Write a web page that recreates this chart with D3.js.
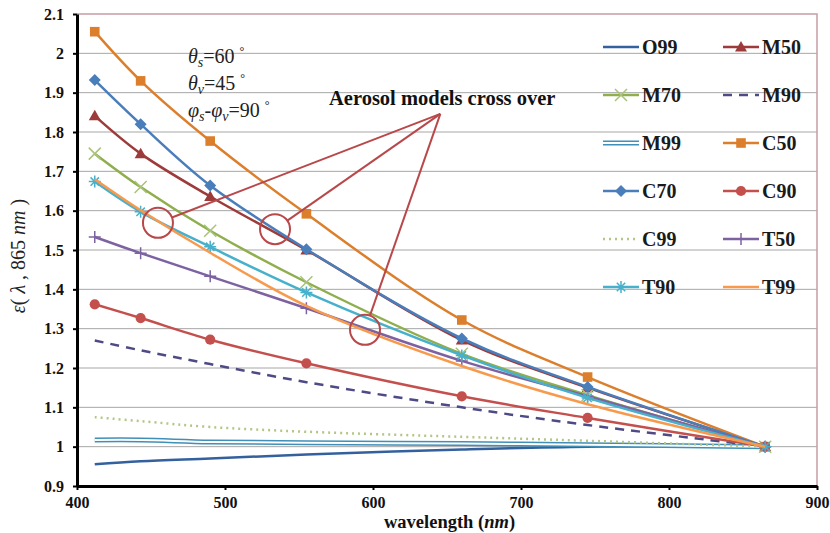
<!DOCTYPE html>
<html>
<head>
<meta charset="utf-8">
<title>Aerosol models epsilon</title>
<style>
body { margin: 0; background: #fff; }
#plot { display: block; }
svg text { font-family: "Liberation Serif", "Times New Roman", serif; }
.grid line { stroke: #a6a6a6; stroke-width: 1; }
.axis path, .axis line { stroke: #000; }
.axis path { stroke-width: 3; }
.axis line { stroke-width: 2; }
.axis text { font-size: 16px; font-weight: bold; fill: #111; }
.legend text { font-size: 20px; font-weight: bold; fill: #1a1a1a; }
</style>
</head>
<body>
<svg id="plot" width="830" height="533"></svg>
<script src="https://cdn.jsdelivr.net/npm/d3@7"></script>
<script>
// wavelengths (nm)
const wavelengths = [412, 443, 490, 555, 660, 745, 865];

// epsilon(lambda, 865) for each aerosol model
const O99 = [0.955, 0.963, 0.970, 0.980, 0.993, 1.000, 1.000];
const M50 = [1.841, 1.745, 1.636, 1.500, 1.271, 1.150, 1.000];
const M70 = [1.745, 1.660, 1.549, 1.418, 1.236, 1.131, 1.000];
const M90 = [1.270, 1.245, 1.210, 1.164, 1.100, 1.055, 1.000];
const M99 = [1.017, 1.017, 1.012, 1.010, 1.008, 1.005, 1.000];
const C50 = [2.055, 1.930, 1.777, 1.592, 1.322, 1.177, 1.000];
const C70 = [1.932, 1.820, 1.664, 1.502, 1.275, 1.152, 1.000];
const C90 = [1.362, 1.327, 1.272, 1.212, 1.128, 1.073, 1.000];
const C99 = [1.075, 1.065, 1.050, 1.038, 1.025, 1.015, 1.000];
const T50 = [1.533, 1.492, 1.433, 1.352, 1.218, 1.128, 1.000];
const T90 = [1.674, 1.597, 1.508, 1.392, 1.232, 1.124, 1.000];
const T99 = [1.680, 1.601, 1.493, 1.358, 1.205, 1.108, 1.000];

const seriesNames = ['O99', 'M50', 'M70', 'M90', 'M99', 'C50',
                     'C70', 'C90', 'C99', 'T50', 'T90', 'T99'];
const seriesValues = [O99, M50, M70, M90, M99, C50, C70, C90, C99, T50, T90, T99];

const yTicks = [0.9, 1.0, 1.1, 1.2, 1.3, 1.4, 1.5, 1.6, 1.7, 1.8, 1.9, 2.0, 2.1];
const xTicks = [400, 500, 600, 700, 800, 900];

// crossing markers of the annotation, [wavelength, epsilon]
const crossPoints = [[454.7, 1.569], [533.8, 1.553], [594.6, 1.297]];
const calloutApex = [645.5, 1.846];

// style per series
const styles = {
  O99: {color: '#34619e', width: 2.5, marker: null},
  M50: {color: '#9c3b39', width: 2.5, marker: 'triangle'},
  M70: {color: '#8fae4e', width: 2.5, marker: 'x'},
  M90: {color: '#4e4a86', width: 2.5, marker: null, dash: '9,7'},
  M99: {color: '#3f8fb8', width: 5, marker: null, double: true},
  C50: {color: '#dc7f2c', width: 2.5, marker: 'square'},
  C70: {color: '#4a7ebb', width: 2.5, marker: 'diamond'},
  C90: {color: '#c4504d', width: 2.5, marker: 'circle'},
  C99: {color: '#b3c784', width: 2.5, marker: null, dash: '2,4'},
  T50: {color: '#7d62a1', width: 2.5, marker: 'plus'},
  T90: {color: '#47b0cb', width: 2.5, marker: 'asterisk'},
  T99: {color: '#f79a4e', width: 2.5, marker: null}
};

const svg = d3.select('#plot');
const plotLeft = 77, plotRight = 817, plotTop = 14, plotBottom = 486;

const x = d3.scaleLinear().domain([400, 900]).range([plotLeft, plotRight]);
const y = d3.scaleLinear().domain([0.9, 2.1]).range([plotBottom, plotTop]);

// gridlines
svg.append('g').attr('class', 'grid')
  .selectAll('line')
  .data(yTicks.slice(1, -1))
  .join('line')
  .attr('x1', plotLeft).attr('x2', plotRight)
  .attr('y1', d => y(d)).attr('y2', d => y(d));

// plot area frame (top / right)
svg.append('path')
  .attr('d', `M${plotLeft},${plotTop}H${plotRight}V${plotBottom}`)
  .attr('fill', 'none')
  .attr('stroke', '#c99ca6')
  .attr('stroke-width', 1.5);

const line = d3.line()
  .x((d, i) => x(wavelengths[i]))
  .y(d => y(d))
  .curve(d3.curveCatmullRom.alpha(0.5));

function drawMarker(g, type, color, size) {
  const s = size;
  if (type === 'triangle') {
    g.append('path').attr('d', `M0,${-s}L${s},${s * 0.75}L${-s},${s * 0.75}Z`).attr('fill', color);
  } else if (type === 'square') {
    g.append('rect').attr('x', -s * 0.8).attr('y', -s * 0.8)
      .attr('width', s * 1.6).attr('height', s * 1.6).attr('fill', color);
  } else if (type === 'diamond') {
    g.append('path').attr('d', `M0,${-s}L${s},0L0,${s}L${-s},0Z`).attr('fill', color);
  } else if (type === 'circle') {
    g.append('circle').attr('r', s * 0.85).attr('fill', color);
  } else if (type === 'x') {
    g.append('path').attr('d', `M${-s},${-s}L${s},${s}M${s},${-s}L${-s},${s}`)
      .attr('fill', 'none').attr('stroke', '#a9c27a').attr('stroke-width', 1.5);
  } else if (type === 'plus') {
    g.append('path').attr('d', `M${-s},0L${s},0M0,${-s}L0,${s}`)
      .attr('fill', 'none').attr('stroke', color).attr('stroke-width', 1.5);
  } else if (type === 'asterisk') {
    g.append('path')
      .attr('d', `M${-s},0L${s},0M0,${-s}L0,${s}M${-s * 0.7},${-s * 0.7}L${s * 0.7},${s * 0.7}M${s * 0.7},${-s * 0.7}L${-s * 0.7},${s * 0.7}`)
      .attr('fill', 'none').attr('stroke', color).attr('stroke-width', 1.5);
  }
}

function drawStroke(g, st, d) {
  const p = g.append('path')
    .attr('d', d)
    .attr('fill', 'none')
    .attr('stroke', st.color)
    .attr('stroke-width', st.width);
  if (st.dash) p.attr('stroke-dasharray', st.dash);
  if (st.double) {
    g.append('path').attr('d', d).attr('fill', 'none')
      .attr('stroke', '#fff').attr('stroke-width', st.width - 3);
  }
}

// series
seriesNames.forEach((name, k) => {
  const st = styles[name];
  const g = svg.append('g').attr('class', 'series');
  drawStroke(g, st, line(seriesValues[k]));
  if (st.marker) {
    seriesValues[k].forEach((v, i) => {
      const m = g.append('g').attr('transform', `translate(${x(wavelengths[i])},${y(v)})`);
      drawMarker(m, st.marker, st.color, 6);
    });
  }
});

// axes
const yAxis = svg.append('g').attr('class', 'axis')
  .attr('transform', `translate(${plotLeft},0)`)
  .call(d3.axisLeft(y).tickValues(yTicks).tickSize(4).tickSizeOuter(0)
    .tickFormat(d => String(+d.toFixed(1))));
yAxis.selectAll('text').attr('dx', '-6');

svg.append('g').attr('class', 'axis')
  .attr('transform', `translate(0,${plotBottom})`)
  .call(d3.axisBottom(x).tickValues(xTicks).tickSize(4).tickSizeOuter(0).tickFormat(d3.format('d')))
  .selectAll('text').attr('dy', '0.95em');

// axis titles
const xt = svg.append('text')
  .attr('x', 384).attr('y', 528)
  .attr('font-size', 18.5).attr('font-weight', 'bold').attr('fill', '#111');
xt.append('tspan').text('wavelength (');
xt.append('tspan').attr('font-style', 'italic').text('nm');
xt.append('tspan').text(')');

const yt = svg.append('text')
  .attr('transform', 'translate(25,256) rotate(-90)')
  .attr('text-anchor', 'middle')
  .attr('font-size', 20).attr('fill', '#222');
yt.append('tspan').attr('font-style', 'italic').text('ε');
yt.append('tspan').text('( ');
yt.append('tspan').attr('font-style', 'italic').text('λ');
yt.append('tspan').text(' ,  865 ');
yt.append('tspan').attr('font-style', 'italic').text('nm');
yt.append('tspan').text(' )');

// geometry annotation
const geo = [
  ['θ', 's', '=60'],
  ['θ', 'v', '=45']
];
const ann = svg.append('g').attr('font-size', 20).attr('fill', '#222');
[63, 90].forEach((by, i) => {
  const t = ann.append('text').attr('x', 188).attr('y', by);
  t.append('tspan').attr('font-style', 'italic').text(geo[i][0]);
  t.append('tspan').attr('font-style', 'italic').attr('font-size', 14).attr('dy', 4).text(geo[i][1]);
  t.append('tspan').attr('dy', -4).text(geo[i][2]);
  t.append('tspan').attr('font-size', 12).attr('dy', -8).attr('dx', 5).text('°');
});
const t3 = ann.append('text').attr('x', 188).attr('y', 117);
t3.append('tspan').attr('font-style', 'italic').text('φ');
t3.append('tspan').attr('font-style', 'italic').attr('font-size', 14).attr('dy', 4).text('s');
t3.append('tspan').attr('dy', -4).text('-');
t3.append('tspan').attr('font-style', 'italic').text('φ');
t3.append('tspan').attr('font-style', 'italic').attr('font-size', 14).attr('dy', 4).text('v');
t3.append('tspan').attr('dy', -4).text('=90');
t3.append('tspan').attr('font-size', 12).attr('dy', -8).attr('dx', 5).text('°');

// cross-over callout
svg.append('text')
  .attr('x', 329).attr('y', 105)
  .attr('font-size', 20.5).attr('font-weight', 'bold').attr('fill', '#111')
  .text('Aerosol models cross over');

const calloutColor = '#b8484a';
const ax = x(calloutApex[0]), ay = y(calloutApex[1]);
const r = 15;
crossPoints.forEach(p => {
  const cx = x(p[0]), cy = y(p[1]);
  const dx = ax - cx, dy = ay - cy, len = Math.hypot(dx, dy);
  svg.append('line')
    .attr('x1', cx + dx / len * r).attr('y1', cy + dy / len * r)
    .attr('x2', ax).attr('y2', ay)
    .attr('stroke', calloutColor).attr('stroke-width', 2);
  svg.append('circle')
    .attr('cx', cx).attr('cy', cy).attr('r', r)
    .attr('fill', 'none').attr('stroke', calloutColor).attr('stroke-width', 2);
});

// legend
const legend = svg.append('g').attr('class', 'legend');
seriesNames.forEach((name, k) => {
  const col = k % 2, row = Math.floor(k / 2);
  const lx = col === 0 ? 603 : 723;
  const ly = 47 + row * 48;
  const st = styles[name];
  const g = legend.append('g');
  drawStroke(g, st, `M${lx},${ly}H${lx + 36}`);
  if (st.marker) {
    const m = g.append('g').attr('transform', `translate(${lx + 18},${ly})`);
    drawMarker(m, st.marker, st.color, 6);
  }
  g.append('text').attr('x', lx + 39).attr('y', ly + 7).text(name);
});
</script>
</body>
</html>
